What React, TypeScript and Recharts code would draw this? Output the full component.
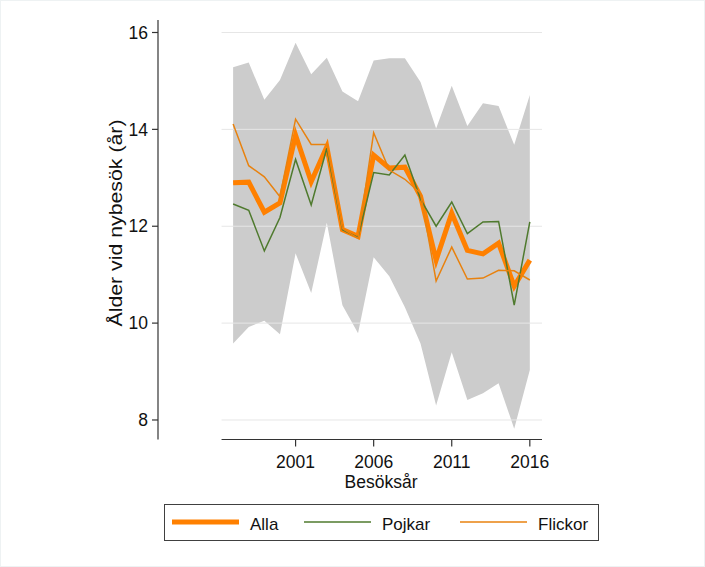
import React from "react";
import { ComposedChart, Area, Line, XAxis, YAxis, ReferenceLine, Legend } from "recharts";

const years = [1997, 1998, 1999, 2000, 2001, 2002, 2003, 2004, 2005, 2006, 2007, 2008, 2009, 2010, 2011, 2012, 2013, 2014, 2015, 2016];
const alla = [12.9, 12.91, 12.29, 12.48, 13.88, 12.92, 13.64, 11.93, 11.79, 13.47, 13.2, 13.22, 12.62, 11.3, 12.27, 11.5, 11.43, 11.65, 10.76, 11.3];
const pojkar = [12.46, 12.33, 11.49, 12.18, 13.38, 12.44, 13.61, 11.93, 11.77, 13.11, 13.06, 13.47, 12.56, 12.0, 12.5, 11.85, 12.09, 12.1, 10.37, 12.09];
const flickor = [14.11, 13.25, 13.02, 12.61, 14.21, 13.69, 13.69, 11.95, 11.75, 13.93, 13.16, 12.97, 12.68, 10.87, 11.57, 10.91, 10.93, 11.09, 11.08, 10.89];
const upper = [15.28, 15.38, 14.61, 15.02, 15.79, 15.14, 15.48, 14.78, 14.58, 15.42, 15.47, 15.47, 14.98, 14.02, 14.9, 14.07, 14.54, 14.48, 13.68, 14.71];
const lower = [9.58, 9.92, 10.05, 9.77, 11.44, 10.62, 12.07, 10.37, 9.79, 11.36, 10.97, 10.33, 9.58, 8.3, 9.4, 8.41, 8.55, 8.76, 7.82, 9.03];

const xTicks = [2001, 2006, 2011, 2016];
const yTicks = [8, 10, 12, 14, 16];
const xDomain = [1992.19, 2016.78];
const yDomain = [7.597, 16.258];
const plotXStart = 1996.26;

const seriesNames = ["Alla", "Pojkar", "Flickor"];
const COL_ALLA = "#ff8000";
const COL_POJ = "#4f7a2e";
const COL_FLI = "#e8820f";
const FONT = "'Liberation Sans', Arial, sans-serif";

const data = years.map((y, i) => ({
  year: y,
  band: [lower[i], upper[i]],
  alla: alla[i],
  pojkar: pojkar[i],
  flickor: flickor[i],
}));

const LegendBox = () => {
  const items = [
    { name: seriesNames[0], color: COL_ALLA, w: 5, x: 8 },
    { name: seriesNames[1], color: COL_POJ, w: 1.5, x: 140 },
    { name: seriesNames[2], color: COL_FLI, w: 1.5, x: 296 },
  ];
  return (
    <div style={{ width: 435, height: 37, border: "1px solid #404040", boxSizing: "border-box", background: "#fff" }}>
      <svg width={433} height={35} style={{ display: "block" }}>
        {items.map((it) => (
          <g key={it.name}>
            <line x1={it.x - 1} x2={it.x + 66} y1={17} y2={17} stroke={it.color} strokeWidth={it.w} />
            <text x={it.x + 77} y={24.5} fontFamily={FONT} fontSize={17} fill="#111">
              {it.name}
            </text>
          </g>
        ))}
      </svg>
    </div>
  );
};

export default function App() {
  return (
    <div
      style={{
        position: "absolute",
        left: 0,
        top: 0,
        width: 705,
        height: 567,
        background: "#fff",
        border: "1px solid #eef2f3",
        boxSizing: "border-box",
      }}
    >
      <div style={{ position: "absolute", left: -1, top: -1 }}>
        <ComposedChart width={705} height={567} data={data} margin={{ top: 20, right: 163, left: 0, bottom: 97.5 }}>
          <XAxis
            dataKey="year"
            type="number"
            domain={xDomain}
            allowDataOverflow
            ticks={xTicks}
            axisLine={false}
            tickLine={{ stroke: "#333", strokeWidth: 1.2 }}
            tickSize={7}
            tickMargin={9}
            height={30}
            tick={{ fontFamily: FONT, fontSize: 17.5, fill: "#111" }}
            label={{
              value: "Besöksår",
              position: "insideBottom",
              content: () => (
                <text x={381} y={482} textAnchor="middle" dominantBaseline="central" fontFamily={FONT} fontSize={17.5} fill="#111">
                  Besöksår
                </text>
              ),
            }}
          />
          <YAxis
            type="number"
            domain={yDomain}
            allowDataOverflow
            ticks={yTicks}
            width={158}
            axisLine={{ stroke: "#333", strokeWidth: 1.2 }}
            tickLine={{ stroke: "#333", strokeWidth: 1.2 }}
            tickSize={6}
            tickMargin={4}
            tick={{ fontFamily: FONT, fontSize: 17.5, fill: "#111" }}
            label={{
              value: "Ålder vid nybesök (år)",
              content: () => (
                <text
                  x={116}
                  y={223}
                  transform="rotate(-90 116 223)"
                  textAnchor="middle"
                  dominantBaseline="central"
                  fontFamily={FONT}
                  fontSize={18}
                  textLength={207}
                  lengthAdjust="spacingAndGlyphs"
                  fill="#111"
                >
                  Ålder vid nybesök (år)
                </text>
              ),
            }}
          />
          <Area
            dataKey="band"
            type="linear"
            fill="#cccccc"
            fillOpacity={1}
            stroke="none"
            isAnimationActive={false}
            legendType="none"
            dot={false}
            activeDot={false}
          />
          {yTicks.map((t) => (
            <ReferenceLine
              key={t}
              segment={[
                { x: plotXStart, y: t },
                { x: xDomain[1], y: t },
              ]}
              stroke="#e6e6e6"
              strokeWidth={1}
              ifOverflow="visible"
            />
          ))}
          <ReferenceLine
            segment={[
              { x: plotXStart, y: yDomain[0] },
              { x: xDomain[1], y: yDomain[0] },
            ]}
            stroke="#333"
            strokeWidth={1.2}
            ifOverflow="visible"
          />
          <Line dataKey="alla" name="Alla" type="linear" stroke={COL_ALLA} strokeWidth={5} dot={false} activeDot={false} isAnimationActive={false} />
          <Line dataKey="pojkar" name="Pojkar" type="linear" stroke={COL_POJ} strokeWidth={1.5} dot={false} activeDot={false} isAnimationActive={false} />
          <Line dataKey="flickor" name="Flickor" type="linear" stroke={COL_FLI} strokeWidth={1.5} dot={false} activeDot={false} isAnimationActive={false} />
          <Legend
            layout="horizontal"
            verticalAlign="middle"
            align="center"
            width={435}
            wrapperStyle={{ left: 164, top: 504, width: 435, height: 37 }}
            content={() => <LegendBox />}
          />
        </ComposedChart>
      </div>
    </div>
  );
}
